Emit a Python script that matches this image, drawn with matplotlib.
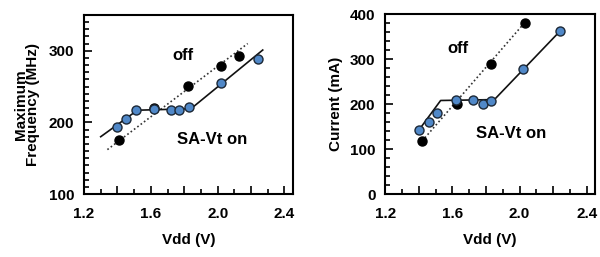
import matplotlib
matplotlib.use('Agg')
import matplotlib.pyplot as plt
from matplotlib.ticker import MultipleLocator

plt.rcParams['font.family'] = ['Liberation Sans', 'DejaVu Sans']
plt.rcParams['font.weight'] = 'bold'

# Maximum frequency (MHz) vs Vdd
freq_on_x = [1.40, 1.45, 1.51, 1.62, 1.72, 1.77, 1.83, 2.02, 2.24]
freq_on_y = [193, 205, 217, 219, 217, 217, 222, 255, 289]
freq_off_x = [1.41, 1.62, 1.82, 2.02, 2.13]
freq_off_y = [176, 220, 251, 279, 292]
freq_on_fit_x = [1.30, 1.52, 1.84, 2.27]
freq_on_fit_y = [180, 217, 219, 301]
freq_off_fit_x = [1.34, 2.18]
freq_off_fit_y = [162, 310]

# Current (mA) vs Vdd
cur_on_x = [1.40, 1.46, 1.51, 1.62, 1.72, 1.78, 1.83, 2.02, 2.24]
cur_on_y = [142, 160, 181, 210, 209, 201, 207, 279, 362]
cur_off_x = [1.42, 1.63, 1.83, 2.03]
cur_off_y = [118, 200, 290, 381]
cur_on_fit_x = [1.40, 1.53, 1.85, 2.24]
cur_on_fit_y = [142, 208, 210, 362]
cur_off_fit_x = [1.42, 2.03]
cur_off_fit_y = [118, 381]

xticks = [1.2, 1.4, 1.6, 1.8, 2.0, 2.2, 2.4]
xticklabels = ['1.2', '', '1.6', '', '2.0', '', '2.4']

blue = '#5088c8'
edge = '#1c2836'
fs = 11


def style_axes(ax, ylim, ymajor, yminor):
    ax.set_xlim(1.2, 2.45)
    ax.set_ylim(*ylim)
    ax.set_xticks(xticks)
    ax.set_xticklabels(xticklabels)
    ax.xaxis.set_minor_locator(MultipleLocator(0.1))
    ax.yaxis.set_major_locator(MultipleLocator(ymajor))
    ax.yaxis.set_minor_locator(MultipleLocator(yminor))
    ax.tick_params(which='both', direction='in', top=False, right=False,
                   labelsize=fs, width=1.2)
    ax.tick_params(axis='x', which='major', pad=9)
    ax.tick_params(axis='y', which='major', pad=7)
    ax.tick_params(which='major', length=6)
    ax.tick_params(which='minor', length=3.5)
    for s in ax.spines.values():
        s.set_linewidth(1.5)
    ax.set_xlabel('Vdd (V)', fontsize=fs, fontweight='bold', labelpad=9)


fig = plt.figure(figsize=(6, 2.57), dpi=100)
ax1 = fig.add_axes([0.14, 0.245, 0.348, 0.697])
ax2 = fig.add_axes([0.642, 0.245, 0.35, 0.70])

# left panel
ax1.plot(freq_off_fit_x, freq_off_fit_y, color='#333333', linestyle=(0, (1, 1.5)), lw=1.2)
ax1.plot(freq_on_fit_x, freq_on_fit_y, color='#111111', lw=1.2)
ax1.plot(freq_off_x, freq_off_y, 'o', color='black', markersize=6.5, zorder=3)
ax1.plot(freq_on_x, freq_on_y, 'o', markerfacecolor=blue, markeredgecolor=edge,
         markeredgewidth=1, markersize=6.5, zorder=4)
ax1.text(1.79, 294, 'off', fontsize=12, fontweight='bold', ha='center', va='center')
ax1.text(1.97, 176, 'SA-Vt on', fontsize=12, fontweight='bold', ha='center', va='center')
style_axes(ax1, (100, 350), 100, 10)
ax1.set_ylabel('Maximum\nFrequency (MHz)', fontsize=fs, fontweight='bold',
               linespacing=0.9, labelpad=6)

# right panel
ax2.plot(cur_off_fit_x, cur_off_fit_y, color='#333333', linestyle=(0, (1, 1.5)), lw=1.2)
ax2.plot(cur_on_fit_x, cur_on_fit_y, color='#111111', lw=1.2)
ax2.plot(cur_off_x, cur_off_y, 'o', color='black', markersize=6.5, zorder=3)
ax2.plot(cur_on_x, cur_on_y, 'o', markerfacecolor=blue, markeredgecolor=edge,
         markeredgewidth=1, markersize=6.5, zorder=4)
ax2.text(1.63, 323, 'off', fontsize=12, fontweight='bold', ha='center', va='center')
ax2.text(1.95, 134, 'SA-Vt on', fontsize=12, fontweight='bold', ha='center', va='center')
style_axes(ax2, (0, 400), 100, 20)
ax2.set_ylabel('Current (mA)', fontsize=fs, fontweight='bold', labelpad=5)

fig.savefig('out.png', dpi=100)
